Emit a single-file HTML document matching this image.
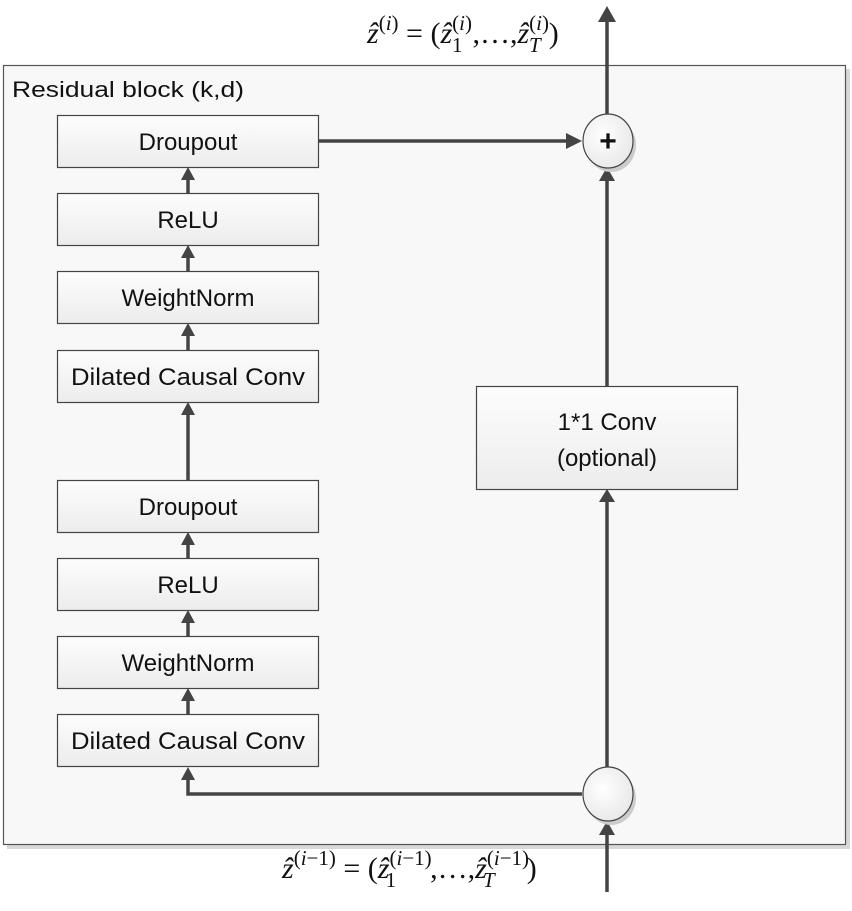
<!DOCTYPE html>
<html><head><style>
body{margin:0;background:#fff;}
svg text{font-family:"Liberation Sans",sans-serif;}
</style></head><body>
<svg width="852" height="906" viewBox="0 0 852 906" xmlns="http://www.w3.org/2000/svg">
<defs>
<linearGradient id="g" x1="0" y1="0" x2="0" y2="1"><stop offset="0" stop-color="#fdfdfd"/><stop offset="1" stop-color="#ececec"/></linearGradient>
<radialGradient id="c" cx="0.4" cy="0.4" r="0.7"><stop offset="0" stop-color="#fff"/><stop offset="1" stop-color="#e6e6e6"/></radialGradient>
</defs>
<rect x="7" y="69" width="843" height="780" fill="#d8d8d8"/>
<rect x="3.5" y="65.5" width="842" height="779" fill="#f8f8f8" stroke="#555" stroke-width="1.2"/>
<text x="12" y="97" font-size="22" fill="#111" textLength="232" lengthAdjust="spacingAndGlyphs">Residual block (k,d)</text>
<g stroke="#444" stroke-width="1.2" fill="url(#g)">
<rect x="57.5" y="115.5" width="261" height="52"/>
<rect x="57.5" y="193.5" width="261" height="52"/>
<rect x="57.5" y="271.5" width="261" height="52"/>
<rect x="57.5" y="350.5" width="261" height="52"/>
<rect x="57.5" y="480.5" width="261" height="52"/>
<rect x="57.5" y="558.5" width="261" height="52"/>
<rect x="57.5" y="636.5" width="261" height="52"/>
<rect x="57.5" y="714.5" width="261" height="52"/>
<rect x="476.5" y="386.5" width="261" height="103"/>
</g>
<g font-size="24" fill="#111" text-anchor="middle">
<text x="188" y="150">Droupout</text>
<text x="188" y="228">ReLU</text>
<text x="188" y="306">WeightNorm</text>
<text x="188" y="385" textLength="234" lengthAdjust="spacingAndGlyphs">Dilated Causal Conv</text>
<text x="188" y="515">Droupout</text>
<text x="188" y="593">ReLU</text>
<text x="188" y="671">WeightNorm</text>
<text x="188" y="749" textLength="234" lengthAdjust="spacingAndGlyphs">Dilated Causal Conv</text>
<text x="607" y="430">1*1 Conv</text>
<text x="607" y="466">(optional)</text>
</g>
<g stroke="#444" stroke-width="3.5" fill="none">
<line x1="188" y1="193" x2="188" y2="178"/>
<line x1="188" y1="271" x2="188" y2="256"/>
<line x1="188" y1="350" x2="188" y2="334"/>
<line x1="188" y1="480" x2="188" y2="413"/>
<line x1="188" y1="558" x2="188" y2="543"/>
<line x1="188" y1="636" x2="188" y2="621"/>
<line x1="188" y1="714" x2="188" y2="699"/>
<polyline points="582,794 188,794 188,778"/>
<line x1="318" y1="141" x2="568" y2="141"/>
<line x1="607" y1="386" x2="607" y2="180"/>
<line x1="607" y1="768" x2="607" y2="500"/>
<line x1="607" y1="892" x2="607" y2="832"/>
<line x1="607" y1="114" x2="607" y2="22"/>
</g>
<g fill="#444">
<polygon points="181,180 195,180 188,167"/>
<polygon points="181,258 195,258 188,245"/>
<polygon points="181,336 195,336 188,323"/>
<polygon points="181,415 195,415 188,402"/>
<polygon points="181,545 195,545 188,532"/>
<polygon points="181,623 195,623 188,610"/>
<polygon points="181,701 195,701 188,688"/>
<polygon points="181,780 195,780 188,767"/>
<polygon points="566,133 566,149 582,141"/>
<polygon points="599,181 615,181 607,167"/>
<polygon points="599,502 615,502 607,489"/>
<polygon points="599,835 615,835 607,821"/>
<polygon points="598,22 616,22 607,6"/>
</g>
<ellipse cx="611" cy="145" rx="25" ry="27" fill="#ccc"/>
<ellipse cx="608" cy="141" rx="25" ry="27" fill="url(#c)" stroke="#444" stroke-width="1.2"/>
<text x="608" y="151" font-size="30" text-anchor="middle" fill="#111" font-weight="bold">+</text>
<ellipse cx="611" cy="798" rx="25" ry="27" fill="#ccc"/>
<ellipse cx="608" cy="794" rx="25" ry="27" fill="url(#c)" stroke="#444" stroke-width="1.2"/>
<g fill="#111">
<text x="367" y="43" font-size="30" style="font-family:'Liberation Serif',serif"><tspan font-style="italic">ẑ</tspan><tspan font-size="21" dy="-13">(<tspan font-style="italic">i</tspan>)</tspan><tspan dy="13"> = (</tspan><tspan font-style="italic">ẑ</tspan><tspan font-size="21" dy="-13">(<tspan font-style="italic">i</tspan>)</tspan><tspan font-size="21" dx="-20" dy="22">1</tspan><tspan dx="10" dy="-9">,…,</tspan><tspan font-style="italic">ẑ</tspan><tspan font-size="21" dy="-13">(<tspan font-style="italic">i</tspan>)</tspan><tspan font-size="21" font-style="italic" dx="-20" dy="22">T</tspan><tspan dx="8" dy="-9">)</tspan></text>
<text x="282" y="878" font-size="30" style="font-family:'Liberation Serif',serif"><tspan font-style="italic">ẑ</tspan><tspan font-size="21" dy="-13">(<tspan font-style="italic">i</tspan>−1)</tspan><tspan dy="13"> = (</tspan><tspan font-style="italic">ẑ</tspan><tspan font-size="21" dy="-13">(<tspan font-style="italic">i</tspan>−1)</tspan><tspan font-size="21" dx="-46" dy="22">1</tspan><tspan dx="34" dy="-9">,…,</tspan><tspan font-style="italic">ẑ</tspan><tspan font-size="21" dy="-13">(<tspan font-style="italic">i</tspan>−1)</tspan><tspan font-size="21" font-style="italic" dx="-46" dy="22">T</tspan><tspan dx="32" dy="-9">)</tspan></text>
</g>
</svg>
</body></html>
